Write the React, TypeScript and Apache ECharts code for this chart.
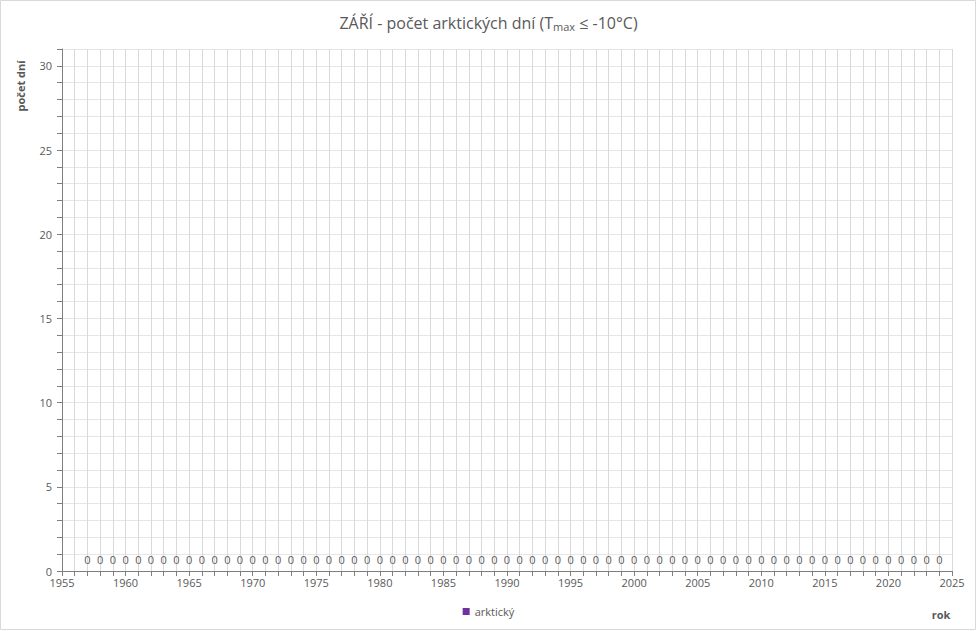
import React, { useEffect, useRef } from "react";
import * as echarts from "echarts";

const years: number[] = [];
for (let y = 1957; y <= 2024; y++) years.push(y);
const arcticDays: number[] = years.map(() => 0);
const seriesName = "arktický";
const yAxisName = "počet dní";
const xAxisName = "rok";

export default function App() {
  const ref = useRef<HTMLDivElement>(null);
  useEffect(() => {
    document.body.style.margin = "0";
    const chart = echarts.init(ref.current!, undefined, { renderer: "svg" });
    const font = "'Open Sans', 'Noto Sans', sans-serif";
    const grey = "#595959";
    chart.setOption({
      animation: false,
      textStyle: { fontFamily: font },
      title: {
        text: "ZÁŘÍ - počet arktických dní (T{sub|max}{n| ≤ -10°C)}",
        left: "center",
        top: 8,
        textStyle: {
          fontFamily: font,
          fontSize: 16,
          fontWeight: "normal",
          color: grey,
          rich: {
            sub: { fontSize: 11, color: grey, fontFamily: font, padding: [8, 0, 0, 0] },
            n: { fontSize: 16, color: grey, fontFamily: font },
          },
        },
      },
      legend: {
        bottom: 9,
        left: "center",
        itemWidth: 7,
        itemHeight: 7,
        icon: "rect",
        textStyle: { fontSize: 11, color: grey, fontFamily: font },
        data: [seriesName],
      },
      grid: { left: 62, right: 25, top: 49, bottom: 60, outerBoundsMode: "none", containLabel: false },
      xAxis: {
        type: "value",
        min: 1955,
        max: 2025,
        interval: 1,
        axisLine: { lineStyle: { color: "#7f7f7f" } },
        axisTick: { show: true, length: 5, lineStyle: { color: "#7f7f7f" } },
        axisLabel: {
          color: grey,
          fontSize: 11,
          margin: 6,
          formatter: (v: number) => (v % 5 === 0 ? String(v) : ""),
        },
        splitLine: { show: true, lineStyle: { color: "#d9d9d9" } },
      },
      yAxis: {
        type: "value",
        min: 0,
        max: 31,
        interval: 1,
        axisLine: { show: true, lineStyle: { color: "#7f7f7f" } },
        axisTick: { show: true, length: 5, lineStyle: { color: "#7f7f7f" } },
        axisLabel: {
          color: grey,
          fontSize: 11,
          margin: 10,
          formatter: (v: number) => (v % 5 === 0 ? String(v) : ""),
        },
        splitLine: { show: true, lineStyle: { color: "#e6e6e6" } },
      },
      series: [
        {
          name: seriesName,
          type: "bar",
          barWidth: 8,
          itemStyle: { color: "#7030A0" },
          data: years.map((y, i) => [y, arcticDays[i]]),
          label: {
            show: true,
            position: "top",
            distance: 6,
            color: grey,
            fontSize: 11,
            fontFamily: font,
          },
        },
      ],
      graphic: [
        {
          type: "rect",
          shape: { x: 0.5, y: 0.5, width: 975, height: 629 },
          style: { fill: "none", stroke: "#d9d9d9", lineWidth: 1 },
          silent: true,
        },
        {
          type: "text",
          x: 20,
          y: 86,
          rotation: Math.PI / 2,
          style: {
            text: yAxisName,
            fill: grey,
            font: "bold 11px 'Open Sans', 'Noto Sans', sans-serif",
            align: "center",
            verticalAlign: "middle",
          },
          silent: true,
        },
        {
          type: "text",
          x: 941,
          y: 614,
          style: {
            text: xAxisName,
            fill: grey,
            font: "bold 11px 'Open Sans', 'Noto Sans', sans-serif",
            align: "center",
            verticalAlign: "middle",
          },
          silent: true,
        },
      ],
    });
    return () => chart.dispose();
  }, []);
  return <div ref={ref} style={{ width: 977, height: 631 }} />;
}
